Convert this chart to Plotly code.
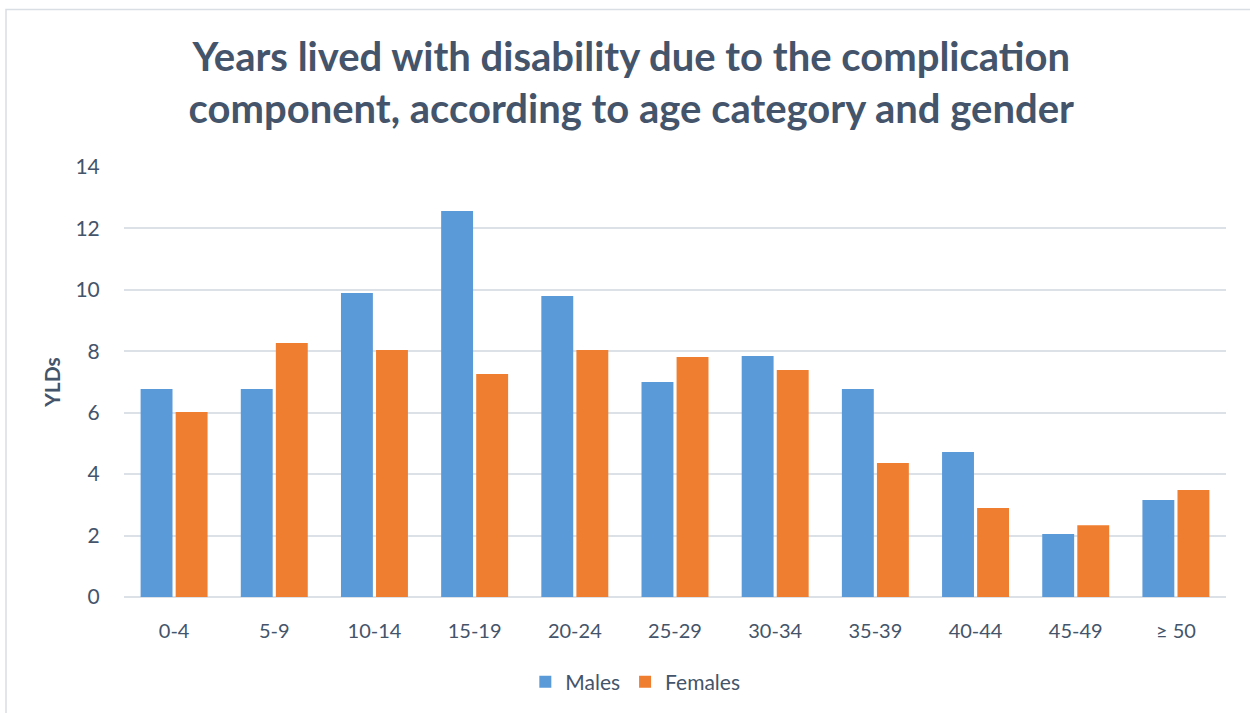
import plotly.graph_objects as go

# Age categories and YLDs by gender
age_groups = ["0-4", "5-9", "10-14", "15-19", "20-24", "25-29",
              "30-34", "35-39", "40-44", "45-49", "≥ 50"]
males = [6.77, 6.77, 9.90, 12.57, 9.80, 7.00, 7.85, 6.77, 4.72, 2.05, 3.16]
females = [6.02, 8.27, 8.04, 7.26, 8.04, 7.81, 7.39, 4.36, 2.90, 2.34, 3.48]
y_ticks = [0, 2, 4, 6, 8, 10, 12, 14]

W, H = 1250, 713
ML, MR, MT, MB = 124, 24, 167, 116
PW, PH = W - ML - MR, H - MT - MB

TEXT = "#44546A"
GRID = "#DCE1E7"
FONT = "Lato"

fig = go.Figure()
fig.add_trace(go.Bar(name="Males", x=age_groups, y=males,
                     marker=dict(color="#5A9AD8", line=dict(width=0))))
fig.add_trace(go.Bar(name="Females", x=age_groups, y=females,
                     marker=dict(color="#F07E30", line=dict(width=0))))


def px_to_paper_x(px):
    return (px - ML) / PW


def px_to_paper_y(py):
    return (H - MB - py) / PH


fig.update_layout(
    width=W, height=H,
    margin=dict(l=ML, r=MR, t=MT, b=MB, autoexpand=False),
    paper_bgcolor="white", plot_bgcolor="white",
    font=dict(family=FONT, color=TEXT, size=20),
    barmode="group", bargap=0.3, bargroupgap=0.09,
    title=dict(
        text="<b>Years lived with disability due to the complication<br>"
             "component, according to age category and gender</b>",
        x=0.505, xanchor="center", xref="container",
        y=1 - 71 / H, yanchor="middle", yref="container",
        font=dict(family=FONT, size=40, color=TEXT),
    ),
    xaxis=dict(
        showgrid=False, zeroline=False, showline=False,
        ticks="outside", ticklen=16, tickcolor="rgba(0,0,0,0)",
        tickfont=dict(size=20, color=TEXT),
    ),
    yaxis=dict(
        range=[0, 14], tickvals=y_ticks, showgrid=True,
        gridcolor=GRID, gridwidth=1.5, zeroline=True,
        zerolinecolor=GRID, zerolinewidth=1.5, showline=False,
        ticks="outside", ticklen=19, tickcolor="rgba(0,0,0,0)",
        tickfont=dict(size=21, color=TEXT),
        title=dict(text="<b>YLDs</b>", font=dict(size=21, color=TEXT),
                   standoff=9),
    ),
    legend=dict(
        orientation="h", x=0.464, xanchor="center",
        y=px_to_paper_y(682), yanchor="middle",
        font=dict(size=21, color=TEXT), itemwidth=30,
        traceorder="normal",
    ),
    shapes=[dict(
        type="rect", xref="paper", yref="paper",
        x0=px_to_paper_x(6), x1=px_to_paper_x(W + 10),
        y0=px_to_paper_y(H + 10), y1=px_to_paper_y(9.5),
        line=dict(color="#D9DEE5", width=1.5), fillcolor="rgba(0,0,0,0)",
        layer="below",
    )],
)

fig.write_html("out.html")
